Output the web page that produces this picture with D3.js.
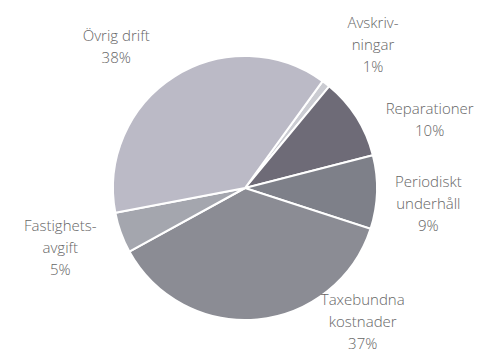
<!DOCTYPE html>
<html>
<head>
<meta charset="utf-8">
<script src="https://cdn.jsdelivr.net/npm/d3@7"></script>
<style>
  body { margin: 0; background: #fff; }
  text { font-family: "Open Sans", sans-serif; font-size: 15px; font-weight: 300; fill: #666; }
</style>
</head>
<body>
<script>
// slices in clockwise order, starting top right
var names = [["Avskriv-", "ningar"], ["Reparationer"], ["Periodiskt", "underhåll"],
             ["Taxebundna", "kostnader"], ["Fastighets-", "avgift"], ["Övrig drift"]];
var values = [1, 10, 9, 37, 5, 38];
var colors = ["#cbccd2", "#6e6b77", "#7e8089", "#8b8c94", "#a4a6ae", "#bbbac6"];

var width = 485, height = 355;
var cx = 245, cy = 188, radius = 132;

// nudge each label around the pie (degrees, px) so they sit like the original
var labelShift = [4, 12, 3, -36, 2, -10];
var labelDist = [192, 197, 184, 178, 194, 191];

var svg = d3.select("body").append("svg")
    .attr("width", width)
    .attr("height", height)
  .append("g")
    .attr("transform", "translate(" + cx + "," + cy + ")");

var start = 36 * Math.PI / 180;
var pie = d3.pie().sort(null)
    .startAngle(start)
    .endAngle(start + 2 * Math.PI);

var arc = d3.arc().innerRadius(0).outerRadius(radius);

var arcs = pie(values);

svg.selectAll("path")
    .data(arcs)
  .enter().append("path")
    .attr("d", arc)
    .style("fill", function(d, i) { return colors[i]; })
    .style("stroke", "#fff")
    .style("stroke-width", 2);

var lineH = 22;
var labels = svg.selectAll(".lbl")
    .data(arcs)
  .enter().append("text")
    .attr("class", "lbl")
    .attr("text-anchor", "middle")
    .attr("transform", function(d, i) {
      var a = (d.startAngle + d.endAngle) / 2 + labelShift[i] * Math.PI / 180;
      var r = labelDist[i];
      return "translate(" + (r * Math.sin(a)) + "," + (-r * Math.cos(a)) + ")";
    });

labels.each(function(d, i) {
  var lines = names[i].concat([values[i] + "%"]);
  var t = d3.select(this);
  var top = -(lines.length - 1) * lineH / 2;
  lines.forEach(function(s, k) {
    t.append("tspan")
      .attr("x", 0)
      .attr("y", top + k * lineH)
      .attr("dy", "0.35em")
      .text(s);
  });
});
</script>
</body>
</html>
